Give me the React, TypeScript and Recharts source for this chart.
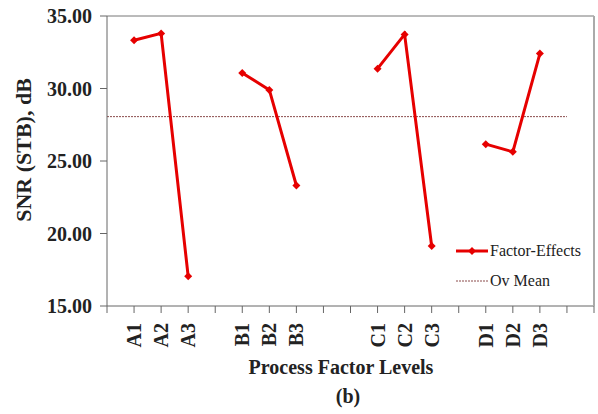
import { Line, LineChart, XAxis, YAxis, Legend } from "recharts"

// category slots along the x axis; blanks are the gaps between factor groups
const categories = ["", "A1", "A2", "A3", "", "B1", "B2", "B3", "", "", "C1", "C2", "C3", "", "D1", "D2", "D3", "", ""]
const factorEffects = [null, 33.33, 33.8, 17.05, null, 31.07, 29.9, 23.31, null, null, 31.37, 33.73, 19.14, null, 26.16, 25.63, 32.41, null, null]
const ovMean = [28.06, 28.06, 28.06, 28.06, 28.06, 28.06, 28.06, 28.06, 28.06, 28.06, 28.06, 28.06, 28.06, 28.06, 28.06, 28.06, 28.06, 28.06, null]
const yTicks = [15, 20, 25, 30, 35]

const data = categories.map((cat, i) => ({
  cat,
  effect: factorEffects[i],
  mean: ovMean[i],
}))

const FONT = "'Liberation Serif', 'Times New Roman', serif"
const RED = "#e60000"
const MEAN = "#8a4b4b"

const Diamond = (props: any) => {
  const { cx, cy, value } = props
  if (value == null || cx == null || cy == null) return <g />
  const r = 4
  return <polygon points={`${cx},${cy - r} ${cx + r},${cy} ${cx},${cy + r} ${cx - r},${cy}`} fill={RED} />
}

const XTick = (props: any) => {
  const { x, y, payload } = props
  if (!payload.value) return <g />
  return (
    <text
      x={x}
      y={y}
      transform={`rotate(-90 ${x} ${y})`}
      textAnchor="end"
      dy="0.35em"
      style={{ fontFamily: FONT, fontWeight: "bold", fontSize: 20, fill: "#222" }}
    >
      {payload.value}
    </text>
  )
}

const LegendBox = () => (
  <div style={{ fontFamily: FONT, fontSize: 16, color: "#222" }}>
    <div style={{ display: "flex", alignItems: "center", height: 30 }}>
      <svg width={34} height={12}>
        <line x1={0} y1={6} x2={32} y2={6} stroke={RED} strokeWidth={3} />
        <polygon points="16,2 20,6 16,10 12,6" fill={RED} />
      </svg>
      <span>Factor-Effects</span>
    </div>
    <div style={{ display: "flex", alignItems: "center", height: 30 }}>
      <svg width={34} height={12}>
        <line x1={0} y1={6} x2={32} y2={6} stroke={MEAN} strokeWidth={1} strokeDasharray="2 1" />
      </svg>
      <span>Ov Mean</span>
    </div>
  </div>
)

export default function App() {
  return (
    <div style={{ position: "absolute", left: 0, top: 0, width: 598, height: 414, background: "#fff" }}>
      <LineChart width={598} height={414} data={data} margin={{ top: 15, right: 3, bottom: 58, left: 10 }}>
        <XAxis
          dataKey="cat"
          interval={0}
          tick={<XTick />}
          tickSize={7}
          tickMargin={10}
          height={50}
          stroke="#666"
          label={{
            content: () => (
              <g style={{ fontFamily: FONT, fontWeight: "bold", fontSize: 20, fill: "#222" }} textAnchor="middle">
                <text x={341} y={374}>Process Factor Levels</text>
                <text x={348} y={403}>(b)</text>
              </g>
            ),
          }}
        />
        <XAxis
          xAxisId="top"
          orientation="top"
          dataKey="cat"
          height={1}
          tick={false}
          tickLine={false}
          axisLine={{ stroke: "#777", strokeWidth: 1 }}
        />
        <YAxis
          domain={[15, 35]}
          ticks={yTicks}
          tickFormatter={(v: number) => v.toFixed(2)}
          width={97}
          tickSize={7}
          tickMargin={8}
          stroke="#666"
          tick={{ style: { fontFamily: FONT, fontWeight: "bold", fontSize: 20, fill: "#222" } }}
          label={{
            content: () => (
              <text
                x={31}
                y={150}
                transform="rotate(-90 31 150)"
                textAnchor="middle"
                style={{ fontFamily: FONT, fontWeight: "bold", fontSize: 22, fill: "#222" }}
              >
                SNR (STB), dB
              </text>
            ),
          }}
        />
        <YAxis
          yAxisId="right"
          orientation="right"
          domain={[15, 35]}
          width={1}
          tick={false}
          tickLine={false}
          axisLine={{ stroke: "#aaa", strokeWidth: 2 }}
        />
        <Legend
          content={<LegendBox />}
          wrapperStyle={{ position: "absolute", left: 456, top: 236, width: 140, height: 0, overflow: "visible" }}
        />
        <Line
          xAxisId="top"
          yAxisId="right"
          dataKey="mean"
          name="Ov Mean"
          stroke={MEAN}
          strokeWidth={1}
          strokeDasharray="2 1"
          dot={false}
          activeDot={false}
          isAnimationActive={false}
        />
        <Line
          dataKey="effect"
          name="Factor-Effects"
          stroke={RED}
          strokeWidth={3}
          dot={<Diamond />}
          activeDot={false}
          isAnimationActive={false}
        />
      </LineChart>
    </div>
  )
}
